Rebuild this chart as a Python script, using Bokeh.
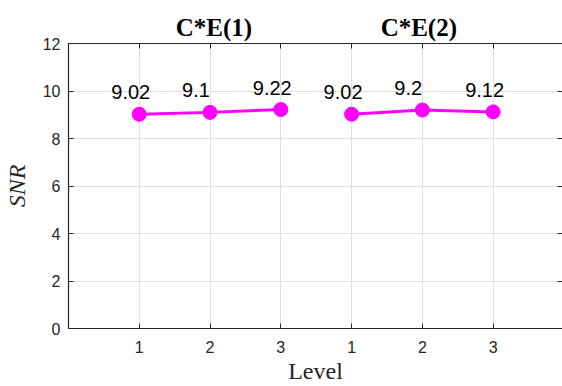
from bokeh.plotting import figure
from bokeh.models import (Range1d, FixedTicker, LinearAxis, ColumnDataSource)
from bokeh.core.properties import value
from bokeh.embed import file_html
from bokeh.resources import INLINE

# ---- data ----
groups = ["C*E(1)", "C*E(2)"]
levels = ["1", "2", "3"]
snr_g1 = [9.02, 9.10, 9.22]
snr_g2 = [9.02, 9.20, 9.12]
y_ticks = [0, 2, 4, 6, 8, 10, 12]

x_g1 = [1, 2, 3]
x_g2 = [4, 5, 6]
title_x = [2.056, 4.95]

AX = "#262626"
MAG = "#ff00ff"

p = figure(width=562, height=386, output_backend="svg", toolbar_location=None,
           x_range=Range1d(0, 6.98), y_range=Range1d(0, 12),
           min_border_left=67, min_border_right=0, min_border_top=43,
           min_border_bottom=58, x_axis_location=None, y_axis_location=None)
p.outline_line_color = None
p.background_fill_color = "white"
p.border_fill_color = "white"

def style_axis(ax, labels=True):
    ax.axis_line_color = AX
    ax.axis_line_width = 1.2
    ax.major_tick_line_color = AX
    ax.major_tick_in = 5
    ax.major_tick_out = 0
    ax.minor_tick_line_color = None
    ax.major_label_text_font = "Liberation Sans"
    ax.major_label_text_font_size = "16px"
    ax.major_label_text_color = AX
    if not labels:
        ax.major_label_overrides = {t: "" for t in ax.ticker.ticks}
        ax.major_label_standoff = 0

xt = FixedTicker(ticks=x_g1 + x_g2)
yt = FixedTicker(ticks=y_ticks)

bx = LinearAxis(ticker=xt, axis_label="Level")
bx.major_label_overrides = {x: lab for x, lab in zip(x_g1 + x_g2, levels + levels)}
style_axis(bx)
bx.major_label_standoff = 12
bx.axis_label_text_font = "Liberation Serif"
bx.axis_label_text_font_style = "normal"
bx.axis_label_text_font_size = "24px"
bx.axis_label_text_color = AX
bx.axis_label_standoff = 2
p.add_layout(bx, "below")

ly = LinearAxis(ticker=yt, axis_label="SNR")
style_axis(ly)
ly.major_label_standoff = 8
ly.axis_label_text_font = "Liberation Serif"
ly.axis_label_text_font_style = "italic"
ly.axis_label_text_font_size = "24px"
ly.axis_label_text_color = AX
ly.axis_label_standoff = 10
p.add_layout(ly, "left")

tx = LinearAxis(ticker=FixedTicker(ticks=x_g1 + x_g2))
style_axis(tx, labels=False)
p.add_layout(tx, "above")

# group titles as an extra top axis (labels only)
gt = LinearAxis(ticker=FixedTicker(ticks=title_x))
gt.major_label_overrides = {x: g for x, g in zip(title_x, groups)}
gt.axis_line_color = None
gt.major_tick_line_color = None
gt.minor_tick_line_color = None
gt.major_label_text_font = "Liberation Serif"
gt.major_label_text_font_style = "bold"
gt.major_label_text_font_size = "25px"
gt.major_label_text_color = "black"
gt.major_label_standoff = -3
p.add_layout(gt, "above")

ry = LinearAxis(ticker=FixedTicker(ticks=y_ticks))
style_axis(ry, labels=False)
ry.axis_line_color = None
p.add_layout(ry, "right")

p.xgrid.ticker = xt
p.ygrid.ticker = yt
p.xgrid.grid_line_color = "#dfdfdf"
p.ygrid.grid_line_color = "#dfdfdf"

for xs, ys in ((x_g1, snr_g1), (x_g2, snr_g2)):
    src = ColumnDataSource(dict(x=xs, y=ys, t=[f"{v:g}" for v in ys]))
    p.line("x", "y", source=src, line_color=MAG, line_width=3)
    p.scatter("x", "y", source=src, size=14, fill_color=MAG, line_color=MAG)
    p.text("x", "y", text="t", source=src, x_offset=-28, y_offset=-22,
           text_font=value("Liberation Sans"), text_font_size="20px",
           text_color="black", text_align="left", text_baseline="alphabetic")

open("out.html", "w").write(file_html(p, INLINE))
